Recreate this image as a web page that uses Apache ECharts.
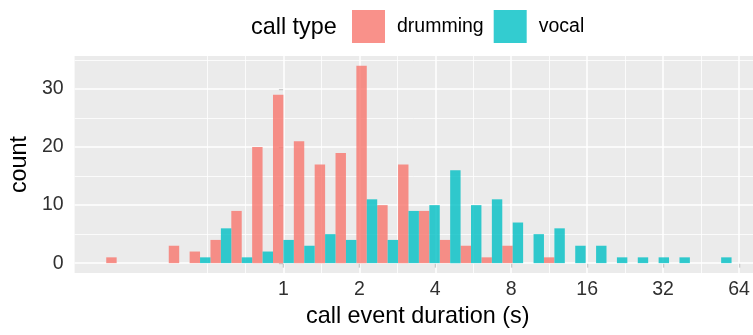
<!DOCTYPE html>
<html>
<head>
<meta charset="utf-8">
<script src="https://cdn.jsdelivr.net/npm/echarts@6/dist/echarts.min.js"></script>
<style>
  html, body { margin: 0; padding: 0; background: #ffffff; }
  #chart { width: 753px; height: 335px; }
</style>
</head>
<body>
<div id="chart"></div>
<script>
// Histogram of call event durations (log2 seconds), 30 bins, dodged by call type.
const binWidthLog2 = 0.2745;
const binIndex = [-8, -7, -6, -5, -4, -3, -2, -1, 0, 1, 2, 3, 4, 5, 6, 7, 8, 9, 10, 11, 12, 13, 14, 15, 16, 17, 18, 19, 20, 21];
const drumming = [1, 0, 0, 3, 2, 4, 9, 20, 29, 21, 17, 19, 34, 10, 17, 9, 4, 3, 1, 3, 0, 1, 0, 0, 0, 0, 0, 0, 0, 0];
const vocal    = [0, 0, 0, 0, 1, 6, 1, 2, 4, 3, 5, 4, 11, 4, 9, 10, 16, 10, 11, 7, 5, 6, 3, 3, 1, 1, 1, 1, 0, 1];
const callTypes = ['drumming', 'vocal'];
const durationTicks = [1, 2, 4, 8, 16, 32, 64];
const countTicks = [0, 10, 20, 30];

const FONT = '"Liberation Sans", Arial, sans-serif';
const colors = { drumming: 'rgba(248,118,109,0.8)', vocal: 'rgba(0,191,196,0.8)' };

const durationTicksLog2 = durationTicks.map(v => Math.log2(v));
const xMinor = [-1, -0.5, 0.5, 1.5, 2.5, 3.5, 4.5, 5.5];
const yMinor = [5, 15, 25, 35];

function binData(counts) {
  const out = [];
  counts.forEach((c, i) => { if (c > 0) out.push([binIndex[i] * binWidthLog2, c]); });
  return out;
}

// side 0: left half of the bin, side 1: right half
function makeRender(side) {
  return function (params, api) {
    const x = api.value(0);
    const y = api.value(1);
    const half = binWidthLog2 / 2;
    const x0 = side === 0 ? x - half : x;
    const x1 = side === 0 ? x : x + half;
    const p0 = api.coord([x0, y]);
    const p1 = api.coord([x1, 0]);
    return {
      type: 'rect',
      shape: { x: p0[0], y: p0[1], width: p1[0] - p0[0], height: p1[1] - p0[1] },
      style: { fill: side === 0 ? colors.drumming : colors.vocal }
    };
  };
}

const gridLines = []
  .concat(durationTicksLog2.map(v => ({ xAxis: v, lineStyle: { width: 1.5 } })))
  .concat(xMinor.map(v => ({ xAxis: v, lineStyle: { width: 0.8 } })))
  .concat(countTicks.map(v => ({ yAxis: v, lineStyle: { width: 1.5 } })))
  .concat(yMinor.map(v => ({ yAxis: v, lineStyle: { width: 0.8 } })));

const chart = echarts.init(document.getElementById('chart'), null, { renderer: 'canvas' });
chart.setOption({
  animation: false,
  textStyle: { fontFamily: FONT },
  title: {
    text: 'call type', left: 251, top: 16, padding: 0,
    textStyle: { fontFamily: FONT, fontSize: 23.4, fontWeight: 'normal', color: '#000000' }
  },
  legend: {
    data: callTypes,
    left: 352, top: 10, padding: 0,
    icon: 'rect', itemWidth: 33, itemHeight: 33, itemGap: 10,
    textStyle: { fontFamily: FONT, fontSize: 19.5, color: '#000000', padding: [0, 0, 0, 7] }
  },
  grid: {
    left: 74, top: 56, right: 0, bottom: 62,
    show: true, backgroundColor: '#EBEBEB', borderWidth: 0
  },
  xAxis: {
    type: 'value', min: -2.75, max: 6.184,
    name: 'call event duration (s)', nameLocation: 'middle', nameGap: 32,
    nameTextStyle: { fontFamily: FONT, fontSize: 23.4, color: '#000000', padding: [0, 0, 0, 8] },
    axisLine: { show: false },
    axisTick: { show: true, customValues: durationTicksLog2, length: 4.5, lineStyle: { color: '#333333', width: 1.1 } },
    axisLabel: {
      customValues: durationTicksLog2, margin: 7,
      fontFamily: FONT, fontSize: 19.5, color: '#303030',
      formatter: v => String(Math.round(Math.pow(2, v)))
    },
    splitLine: { show: false }
  },
  yAxis: {
    type: 'value', min: -1.7, max: 35.7,
    name: 'count', nameLocation: 'middle', nameGap: 33, nameRotate: 90,
    nameTextStyle: { fontFamily: FONT, fontSize: 23.4, color: '#000000' },
    axisLine: { show: false },
    axisTick: { show: true, customValues: countTicks, length: 4.5, lineStyle: { color: '#333333', width: 1.1 } },
    axisLabel: { customValues: countTicks, margin: 11, fontFamily: FONT, fontSize: 19.5, color: '#303030' },
    splitLine: { show: false }
  },
  series: [
    {
      type: 'line', data: [], silent: true, z: 1,
      markLine: {
        z: 1, silent: true, symbol: ['none', 'none'], label: { show: false }, animation: false,
        lineStyle: { color: '#FFFFFF', type: 'solid', width: 1.5 },
        emphasis: { disabled: true },
        data: gridLines
      }
    },
    {
      name: 'drumming', type: 'custom', z: 3,
      itemStyle: { color: colors.drumming },
      renderItem: makeRender(0),
      data: binData(drumming)
    },
    {
      name: 'vocal', type: 'custom', z: 3,
      itemStyle: { color: colors.vocal },
      renderItem: makeRender(1),
      data: binData(vocal)
    }
  ]
});
</script>
</body>
</html>
